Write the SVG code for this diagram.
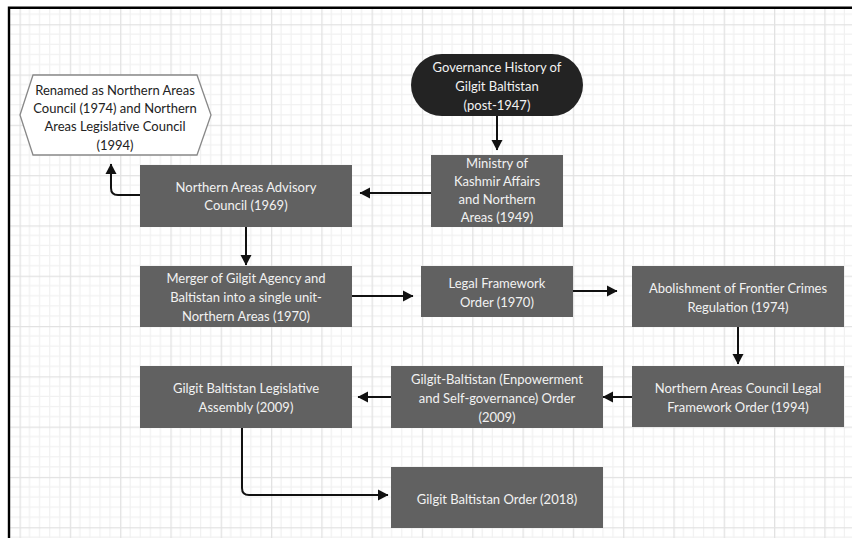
<svg xmlns="http://www.w3.org/2000/svg" width="852" height="538" viewBox="0 0 852 538">
<defs>
<pattern id="grid" patternUnits="userSpaceOnUse" x="19.5" y="24.2" width="50.3" height="50.3">
<path d="M10.06,0V50.3M20.12,0V50.3M30.18,0V50.3M40.24,0V50.3M0,10.06H50.3M0,20.12H50.3M0,30.18H50.3M0,40.24H50.3" stroke="#f1f1f1" stroke-width="1.2" fill="none"/>
<path d="M0.5,0V50.3M0,0.5H50.3" stroke="#e2e2e2" stroke-width="1.6" fill="none"/>
</pattern>
<marker id="ah" markerUnits="userSpaceOnUse" markerWidth="11" markerHeight="12" refX="10" refY="6" orient="auto">
<path d="M0,0.5 L10.5,6 L0,11.5 z" fill="#111"/>
</marker>
<style>
.box{fill:#616161;}
.lt{font-family:Lato,"Noto Sans",sans-serif;font-size:13px;fill:#f2f2f2;text-anchor:middle;}
.dt{font-family:Lato,"Noto Sans",sans-serif;font-size:13px;fill:#222;text-anchor:middle;}
.c{fill:none;stroke:#111;stroke-width:2;marker-end:url(#ah);}
</style>
</defs>
<rect x="0" y="0" width="852" height="538" fill="#fff"/>
<rect x="9" y="8" width="843" height="530" fill="url(#grid)"/>
<path d="M9,538V7.7H852" fill="none" stroke="#000" stroke-width="2.4"/>

<g id="connectors">
<path class="c" d="M497,116V150"/>
<path class="c" d="M431,193H360"/>
<path class="c" d="M140,195H118Q111,195 111,188V164"/>
<path class="c" d="M246,227V265"/>
<path class="c" d="M352,296H413"/>
<path class="c" d="M573,291H617"/>
<path class="c" d="M738,327V364"/>
<path class="c" d="M632,397H603"/>
<path class="c" d="M391,397H358"/>
<path class="c" d="M242,428V488Q242,495 249,495H388"/>
</g>

<g id="start">
<rect x="411" y="54" width="172" height="62" rx="31" ry="31" fill="#232323"/>
<text class="lt" x="497" y="71.5">Governance History of</text>
<text class="lt" x="497" y="90.5">Gilgit Baltistan</text>
<text class="lt" x="497" y="109.5">(post-1947)</text>
</g>

<g id="ministry">
<rect class="box" x="431" y="155" width="132" height="72"/>
<text class="lt" x="497" y="168">Ministry of</text>
<text class="lt" x="497" y="186">Kashmir Affairs</text>
<text class="lt" x="497" y="204">and Northern</text>
<text class="lt" x="497" y="222">Areas (1949)</text>
</g>

<g id="renamed">
<polygon points="20,115 33,75 197,75 211,115 197,155 33,155" fill="#fff" stroke="#888" stroke-width="1.3"/>
<text class="dt" x="115" y="95">Renamed as Northern Areas</text>
<text class="dt" x="115" y="113">Council (1974) and Northern</text>
<text class="dt" x="115" y="131">Areas Legislative Council</text>
<text class="dt" x="115" y="150">(1994)</text>
</g>

<g id="advisory">
<rect class="box" x="140" y="165" width="212" height="62"/>
<text class="lt" x="246" y="191.5">Northern Areas Advisory</text>
<text class="lt" x="246" y="210">Council (1969)</text>
</g>

<g id="merger">
<rect class="box" x="140" y="266" width="212" height="61"/>
<text class="lt" x="246" y="283">Merger of Gilgit Agency and</text>
<text class="lt" x="246" y="302">Baltistan into a single unit-</text>
<text class="lt" x="246" y="321">Northern Areas (1970)</text>
</g>

<g id="lfo">
<rect class="box" x="421" y="266" width="152" height="51"/>
<text class="lt" x="497" y="288">Legal Framework</text>
<text class="lt" x="497" y="307">Order (1970)</text>
</g>

<g id="fcr">
<rect class="box" x="632" y="266" width="212" height="61"/>
<text class="lt" x="738" y="293">Abolishment of Frontier Crimes</text>
<text class="lt" x="738" y="312">Regulation  (1974)</text>
</g>

<g id="nacl">
<rect class="box" x="632" y="366" width="212" height="61"/>
<text class="lt" x="738" y="393">Northern Areas Council Legal</text>
<text class="lt" x="738" y="412">Framework Order (1994)</text>
</g>

<g id="empowerment">
<rect class="box" x="391" y="366" width="212" height="62"/>
<text class="lt" x="497" y="384">Gilgit-Baltistan (Enpowerment</text>
<text class="lt" x="497" y="402.5">and Self-governance) Order</text>
<text class="lt" x="497" y="421.5">(2009)</text>
</g>

<g id="assembly">
<rect class="box" x="140" y="366" width="212" height="62"/>
<text class="lt" x="246" y="393">Gilgit Baltistan Legislative</text>
<text class="lt" x="246" y="412">Assembly (2009)</text>
</g>

<g id="order2018">
<rect class="box" x="391" y="467" width="212" height="61"/>
<text class="lt" x="497" y="503.5">Gilgit Baltistan Order (2018)</text>
</g>
</svg>
